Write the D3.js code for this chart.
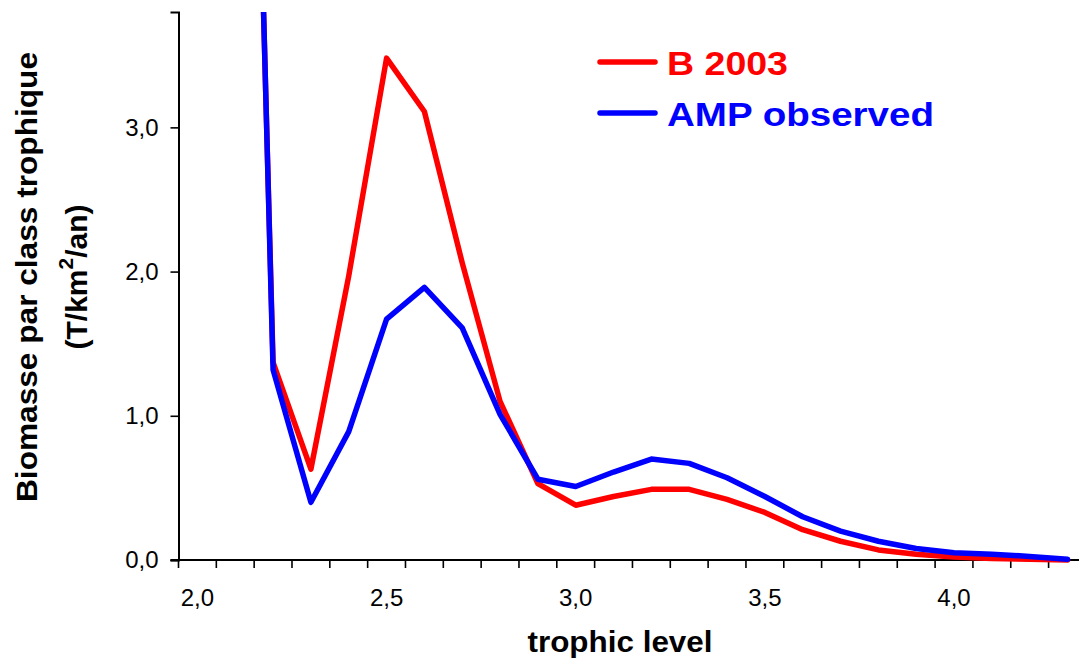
<!DOCTYPE html>
<html>
<head>
<meta charset="utf-8">
<script src="https://cdn.jsdelivr.net/npm/d3@7"></script>
<style>
  html, body { margin: 0; padding: 0; background: #fff; }
  svg { display: block; font-family: "Liberation Sans", Arial, Helvetica, sans-serif; }
</style>
</head>
<body>
<svg id="chart" width="1079" height="661"></svg>
<script>
// Trophic level classes (category axis)
const trophicLevels = ["2,0","2,1","2,2","2,3","2,4","2,5","2,6","2,7","2,8","2,9",
                       "3,0","3,1","3,2","3,3","3,4","3,5","3,6","3,7","3,8","3,9",
                       "4,0","4,1","4,2","4,3"];
// Biomass per trophic class (T/km²/an); the 2,1 class runs far above the axis
const b2003      = [null, 11.0, 1.37, 0.63, 1.97, 3.48, 3.11, 2.06, 1.10, 0.53,
                    0.38, 0.44, 0.49, 0.49, 0.42, 0.33, 0.21, 0.13, 0.07, 0.04,
                    0.02, 0.01, 0.005, 0.0];
const ampObserved = [null, 11.2, 1.32, 0.40, 0.89, 1.67, 1.89, 1.61, 1.01, 0.56,
                    0.51, 0.61, 0.70, 0.67, 0.57, 0.44, 0.30, 0.20, 0.13, 0.08,
                    0.05, 0.04, 0.025, 0.005];
const xTickLabels = ["2,0","2,5","3,0","3,5","4,0"];
const yTickValues = [0, 1, 2, 3];

const seriesList = [
  { name: "B 2003", values: b2003, color: "#ff0000" },
  { name: "AMP observed", values: ampObserved, color: "#0000ff" }
];

const svg = d3.select("#chart");
const plot = { left: 178.5, top: 12, bottom: 560, right: 178.5 + 24 * 37.83 };

const x = d3.scaleBand().domain(trophicLevels).range([plot.left, plot.right]).padding(0);
const y = d3.scaleLinear().domain([0, 3.8]).range([plot.bottom, plot.top]);
const fmt = v => d3.format(".1f")(v).replace(".", ",");

// clip so the steep first segment stops at the top of the plot area
svg.append("defs").append("clipPath").attr("id", "plotClip")
  .append("rect")
  .attr("x", plot.left).attr("y", plot.top)
  .attr("width", plot.right - plot.left + 10).attr("height", 661 - plot.top);

// Y axis
const yAxis = svg.append("g")
  .attr("transform", `translate(${plot.left},0)`)
  .call(d3.axisLeft(y).tickValues(yTickValues).tickFormat(fmt).tickSizeOuter(0).tickSize(8).tickPadding(12));
yAxis.select(".domain").attr("stroke", "#000").attr("stroke-width", 2);
yAxis.selectAll(".tick line").attr("stroke", "#000").attr("stroke-width", 1.6);
yAxis.selectAll(".tick text").attr("font-size", 24).attr("fill", "#000")
  .attr("font-family", "'Liberation Sans', Arial, sans-serif");

// X axis: ticks on category boundaries, labels every fifth class
const xAxis = svg.append("g").attr("transform", `translate(0,${plot.bottom})`);
xAxis.append("line")
  .attr("x1", plot.left - 8).attr("x2", plot.right)
  .attr("y1", 0).attr("y2", 0)
  .attr("stroke", "#000").attr("stroke-width", 2);
const boundaries = trophicLevels.map(c => x(c)).concat([x(trophicLevels[trophicLevels.length - 1]) + x.bandwidth()]);
xAxis.selectAll("line.tick").data(boundaries).enter().append("line")
  .attr("class", "tick")
  .attr("x1", d => d).attr("x2", d => d)
  .attr("y1", 0).attr("y2", 8)
  .attr("stroke", "#000").attr("stroke-width", 1.6);
xAxis.selectAll("text.lbl").data(xTickLabels).enter().append("text")
  .attr("class", "lbl")
  .attr("x", d => x(d) + x.bandwidth() / 2)
  .attr("y", 46)
  .attr("text-anchor", "middle")
  .attr("font-size", 24)
  .text(d => d);

// Series lines
const line = d3.line()
  .defined(d => d.v !== null)
  .x(d => x(d.c) + x.bandwidth() / 2)
  .y(d => y(d.v));

const lines = svg.append("g").attr("clip-path", "url(#plotClip)");
seriesList.forEach(s => {
  lines.append("path")
    .datum(trophicLevels.map((c, i) => ({ c, v: s.values[i] })))
    .attr("fill", "none")
    .attr("stroke", s.color)
    .attr("stroke-width", 5.5)
    .attr("stroke-linejoin", "round")
    .attr("stroke-linecap", "round")
    .attr("d", line);
});

// Legend
const legend = svg.append("g");
const legendRows = [
  { y: 62, base: 75, len: 121 },
  { y: 113, base: 126, len: 267 }
];
seriesList.forEach((s, i) => {
  const r = legendRows[i];
  legend.append("line")
    .attr("x1", 600).attr("x2", 655).attr("y1", r.y).attr("y2", r.y)
    .attr("stroke", s.color).attr("stroke-width", 5.5).attr("stroke-linecap", "round");
  legend.append("text")
    .attr("x", 667).attr("y", r.base)
    .attr("font-size", 33).attr("font-weight", "bold")
    .attr("fill", s.color)
    .attr("textLength", r.len).attr("lengthAdjust", "spacingAndGlyphs")
    .text(s.name);
});

// Axis titles
svg.append("text")
  .attr("x", 620).attr("y", 652)
  .attr("text-anchor", "middle")
  .attr("font-size", 30).attr("font-weight", "bold")
  .attr("textLength", 185).attr("lengthAdjust", "spacingAndGlyphs")
  .text("trophic level");

const yTitle = svg.append("g").attr("transform", "translate(0,277) rotate(-90)");
yTitle.append("text")
  .attr("x", 0).attr("y", 37)
  .attr("text-anchor", "middle")
  .attr("font-size", 30).attr("font-weight", "bold")
  .attr("textLength", 450).attr("lengthAdjust", "spacingAndGlyphs")
  .text("Biomasse par class trophique");
const unit = yTitle.append("text")
  .attr("x", 0).attr("y", 87)
  .attr("text-anchor", "middle")
  .attr("font-size", 30).attr("font-weight", "bold");
unit.append("tspan").text("(T/km");
unit.append("tspan").attr("dy", -14).attr("font-size", 21).text("2");
unit.append("tspan").attr("dy", 14).text("/an)");
</script>
</body>
</html>
